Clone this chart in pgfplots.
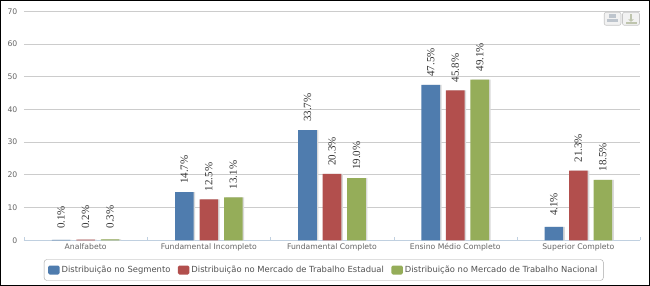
\documentclass[border=0pt]{standalone}
\usepackage{pgfplots}
\pgfplotsset{compat=1.18}
\usepackage{fontspec}
\setmainfont{DejaVu Sans}
\newfontfamily\labfont{Liberation Serif}
\definecolor{cA}{HTML}{4F7CAE}
\definecolor{cB}{HTML}{B24F4D}
\definecolor{cC}{HTML}{95AD59}
\definecolor{sh}{HTML}{DADADA}
\definecolor{tick}{HTML}{666666}
\definecolor{grd}{HTML}{CCCCCC}
\definecolor{axl}{HTML}{C0D0E0}
\begin{document}
\begin{tikzpicture}[x=1pt,y=1pt]
\fill[white] (-24,-45.7) rectangle (626,240.3);
\begin{axis}[
  at={(0pt,0pt)}, anchor=origin,
  scale only axis, width=616pt, height=229pt,
  xmin=0, xmax=5, ymin=0, ymax=70,
  axis x line*=bottom, axis y line*=left,
  x axis line style={draw=axl,-}, y axis line style={draw=none,-},
  xtick={0.5,1.5,2.5,3.5,4.5},
  xticklabels={Analfabeto,Fundamental Incompleto,Fundamental Completo,Ensino Médio Completo,Superior Completo},
  minor xtick={0,1,2,3,4,5},
  major x tick style={draw=none},
  minor x tick style={draw=axl},
  minor tick length=3pt, major tick length=0pt,
  ytick={0,10,...,70},
  y tick style={draw=none},
  ymajorgrids, major grid style={draw=grd,line width=0.8pt},
  xticklabel style={font=\fontsize{7.7}{9}\selectfont,text=tick,yshift=-1pt,inner sep=2pt},
  yticklabel style={font=\fontsize{7.7}{9}\selectfont,text=tick,inner sep=0pt,xshift=-6.5pt},
  /pgf/number format/assume math mode=true,
  legend style={at={(0.4866,-0.1297)},anchor=center,draw=gray!70,rounded corners=3pt,
    font=\fontsize{8.4}{10}\selectfont,text=tick!80!black,
    /tikz/every even column/.append style={column sep=5.5pt},
    inner xsep=4pt,inner ysep=4.5pt,row sep=0pt},
  legend columns=3,
  legend image code/.code={\fill[#1,rounded corners=1.5pt] (0pt,-4.5pt) rectangle (11.5pt,4.5pt);},
  every axis plot/.append style={draw=none,bar width=18.6pt},
  lab/.style={nodes near coords={\pgfmathprintnumber[fixed,fixed zerofill,precision=1,assume math mode=true]{\pgfplotspointmeta}\%},
    every node near coord/.append style={xshift=#1,yshift=22.5pt,font=\labfont\fontsize{11}{11}\selectfont,text=black!80,rotate=90,anchor=center,inner sep=0pt}},
]
% shadows
\addplot[ybar,fill=sh,bar shift=-22.9pt,forget plot] coordinates {(0.5,0.1)(1.5,14.7)(2.5,33.7)(3.5,47.5)(4.5,4.1)};
\addplot[ybar,fill=sh,bar shift=1.6pt,forget plot] coordinates {(0.5,0.2)(1.5,12.5)(2.5,20.3)(3.5,45.8)(4.5,21.3)};
\addplot[ybar,fill=sh,bar shift=26.1pt,forget plot] coordinates {(0.5,0.3)(1.5,13.1)(2.5,19.0)(3.5,49.1)(4.5,18.5)};
% bars
\addplot[ybar,fill=cA,bar shift=-24.5pt,lab=-24.5pt] coordinates {(0.5,0.1)(1.5,14.7)(2.5,33.7)(3.5,47.5)(4.5,4.1)};
\addplot[ybar,fill=cB,bar shift=0pt,lab=0pt] coordinates {(0.5,0.2)(1.5,12.5)(2.5,20.3)(3.5,45.8)(4.5,21.3)};
\addplot[ybar,fill=cC,bar shift=24.5pt,lab=24.5pt] coordinates {(0.5,0.3)(1.5,13.1)(2.5,19.0)(3.5,49.1)(4.5,18.5)};
\legend{Distribuição no Segmento,Distribuição no Mercado de Trabalho Estadual,Distribuição no Mercado de Trabalho Nacional}
\end{axis}
% frame
\draw[black,line width=1.2pt] (-23.4,-45.1) rectangle (625.4,239.7);
% export buttons
\draw[gray!45,fill=gray!10,rounded corners=2pt,line width=0.6pt] (580.2,215) rectangle (597,228);
\draw[gray!45,fill=gray!10,rounded corners=2pt,line width=0.6pt] (598.5,215) rectangle (615.5,228);
\fill[cA!35!gray!45] (585,222) rectangle (592,226);
\fill[cA!35!gray!45] (583,218) rectangle (594,221.5);
\fill[cC!50!gray!55] (606,220.5) rectangle (608,226);
\fill[cC!50!gray!55] (604,221) -- (610,221) -- (607,218.5) -- cycle;
\fill[cC!50!gray!55] (601.5,216.5) rectangle (612.5,218);
\end{tikzpicture}
\end{document}
